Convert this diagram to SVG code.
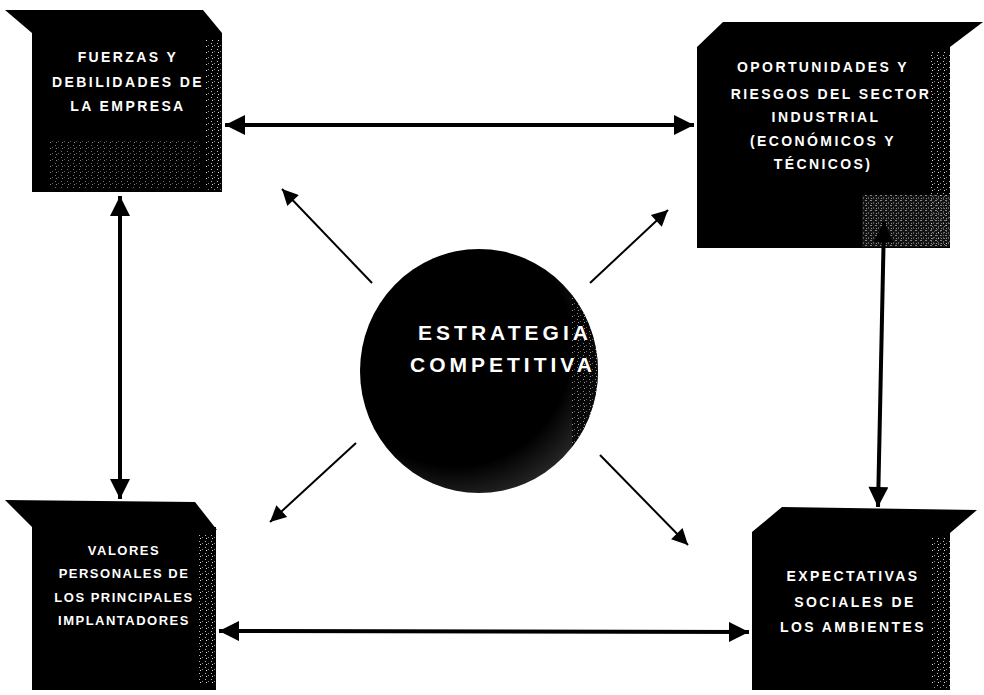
<svg xmlns="http://www.w3.org/2000/svg" width="984" height="695" viewBox="0 0 984 695">
<defs>
<style>
.face{fill:#000}
.lbl{font-family:"Liberation Sans",Arial,sans-serif;font-weight:bold;font-size:14px;fill:#fff;text-anchor:middle;letter-spacing:2.4px}
.sm{font-size:13px;letter-spacing:1.5px}
.big{font-size:21px;letter-spacing:4px}
.dbl{stroke:#000;stroke-width:4;fill:none;marker-start:url(#hs);marker-end:url(#he)}
.one{stroke:#000;stroke-width:2;fill:none;marker-end:url(#ha)}
</style>
<marker id="he" viewBox="0 0 10 10" refX="10" refY="5" markerWidth="6" markerHeight="5" markerUnits="strokeWidth" orient="auto"><path d="M0,0L10,5L0,10z" fill="#000"/></marker>
<marker id="hs" viewBox="0 0 10 10" refX="0" refY="5" markerWidth="6" markerHeight="5" markerUnits="strokeWidth" orient="auto"><path d="M10,0L0,5L10,10z" fill="#000"/></marker>
<marker id="ha" viewBox="0 0 10 10" refX="10" refY="5" markerWidth="10" markerHeight="8" markerUnits="strokeWidth" orient="auto"><path d="M0,0L10,5L0,10z" fill="#000"/></marker>
<pattern id="spk" width="6" height="6" patternUnits="userSpaceOnUse">
<rect width="6" height="6" fill="#000"/>
<rect x="1" y="1" width="1" height="1" fill="#bbb"/>
<rect x="4" y="3" width="1" height="1" fill="#888"/>
<rect x="2" y="4" width="1" height="1" fill="#ddd"/>
</pattern>
<pattern id="spk2" width="5" height="5" patternUnits="userSpaceOnUse">
<rect width="5" height="5" fill="#222"/>
<rect x="0" y="0" width="2" height="1" fill="#eee"/>
<rect x="3" y="2" width="1" height="2" fill="#aaa"/>
<rect x="1" y="3" width="1" height="1" fill="#fff"/>
</pattern>
<radialGradient id="ball" cx="0.4" cy="0.4" r="0.7">
<stop offset="0.7" stop-color="#000"/>
<stop offset="1" stop-color="#333"/>
</radialGradient>
<clipPath id="cc"><ellipse cx="479" cy="371" rx="119" ry="122"/></clipPath>
</defs>

<g id="n-fuerzas">
<polygon class="face" points="5,10 203,10 222,33 32,33"/>
<rect class="face" x="32" y="33" width="190" height="159"/>
<rect x="206" y="40" width="16" height="150" fill="url(#spk)"/>
<rect x="50" y="140" width="150" height="48" fill="url(#spk)" opacity="0.6"/>
<text class="lbl" x="128" y="62">FUERZAS Y</text>
<text class="lbl" x="128" y="87">DEBILIDADES DE</text>
<text class="lbl" x="128" y="111">LA EMPRESA</text>
</g>

<g id="n-oportunidades">
<polygon class="face" points="723,22 983,22 950,47 697,47"/>
<rect class="face" x="697" y="47" width="253" height="201"/>
<rect x="930" y="52" width="20" height="194" fill="url(#spk)"/>
<rect x="862" y="195" width="88" height="52" fill="url(#spk2)" opacity="0.55"/>
<text class="lbl" x="823" y="72">OPORTUNIDADES Y</text>
<text class="lbl" x="831" y="99">RIESGOS DEL SECTOR</text>
<text class="lbl" x="826" y="122">INDUSTRIAL</text>
<text class="lbl" x="823" y="146">(ECONÓMICOS Y</text>
<text class="lbl" x="823" y="169">TÉCNICOS)</text>
</g>

<g id="n-valores">
<polygon class="face" points="5,500 195,502 217,530 32,527"/>
<rect class="face" x="32" y="527" width="184" height="163"/>
<rect x="198" y="535" width="18" height="150" fill="url(#spk)"/>
<text class="lbl sm" x="124" y="555">VALORES</text>
<text class="lbl sm" x="124" y="578">PERSONALES DE</text>
<text class="lbl sm" x="124" y="602">LOS PRINCIPALES</text>
<text class="lbl sm" x="124" y="625">IMPLANTADORES</text>
</g>

<g id="n-expectativas">
<polygon class="face" points="782,507 977,510 950,533 752,532"/>
<rect class="face" x="752" y="532" width="198" height="158"/>
<rect x="932" y="538" width="18" height="150" fill="url(#spk)"/>
<text class="lbl" x="853" y="581">EXPECTATIVAS</text>
<text class="lbl" x="855" y="607">SOCIALES DE</text>
<text class="lbl" x="853" y="632">LOS AMBIENTES</text>
</g>

<g id="n-estrategia">
<ellipse cx="479" cy="371" rx="119" ry="122" fill="url(#ball)"/>
<rect x="572" y="290" width="30" height="170" fill="url(#spk)" opacity="0.7" clip-path="url(#cc)"/>
<text class="lbl big" x="505" y="340">ESTRATEGIA</text>
<text class="lbl big" x="503" y="372">COMPETITIVA</text>
</g>

<g id="connectors">
<line class="dbl" x1="225" y1="125" x2="694" y2="125"/>
<line class="dbl" x1="219" y1="631" x2="749" y2="632"/>
<line class="dbl" x1="120" y1="196" x2="120" y2="499"/>
<line class="dbl" x1="884" y1="222" x2="878" y2="507"/>
<line class="one" x1="372" y1="283" x2="282" y2="189"/>
<line class="one" x1="590" y1="283" x2="668" y2="210"/>
<line class="one" x1="356" y1="443" x2="270" y2="522"/>
<line class="one" x1="600" y1="455" x2="688" y2="545"/>
</g>
</svg>
